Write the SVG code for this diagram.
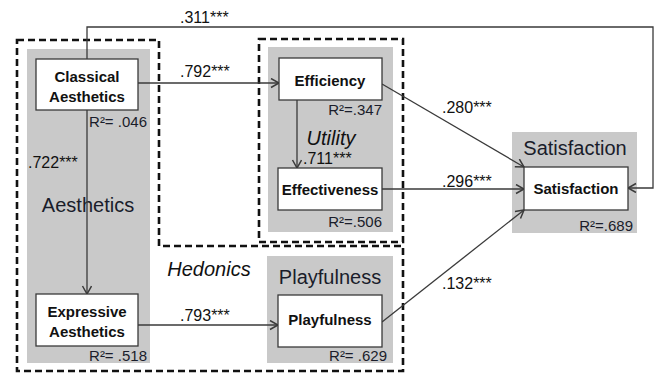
<svg xmlns="http://www.w3.org/2000/svg" width="658" height="375" viewBox="0 0 658 375">
<style>
  .gray{fill:#c9c9c9;}
  .box{fill:#fff;stroke:#3a3a3a;stroke-width:1.3;}
  .dash{fill:none;stroke:#111;stroke-width:2.6;stroke-dasharray:7 4;}
  .con{fill:none;stroke:#3a3a3a;stroke-width:1.3;}
  .b{font-family:"Liberation Sans",Arial,sans-serif;font-weight:bold;font-size:15px;fill:#111;text-anchor:middle;}
  .t{font-family:"Liberation Sans",Arial,sans-serif;font-size:20px;fill:#1a1d2b;text-anchor:middle;}
  .i{font-family:"Liberation Sans",Arial,sans-serif;font-style:italic;font-size:20px;fill:#111;text-anchor:middle;}
  .r{font-family:"Liberation Sans",Arial,sans-serif;font-size:15px;fill:#1a1d2b;text-anchor:end;}
  .n{font-family:"Liberation Sans",Arial,sans-serif;font-size:16px;fill:#111;}
</style>
<defs>
  <marker id="arr" markerUnits="userSpaceOnUse" markerWidth="12" markerHeight="12" refX="9" refY="5" orient="auto">
    <path d="M1,0.5 L9,5 L1,9.5" fill="none" stroke="#3a3a3a" stroke-width="1.5"/>
  </marker>
</defs>
<rect width="658" height="375" fill="#fff"/>

<g id="groups">
  <rect class="gray" x="27" y="49" width="123" height="314"/>
  <rect class="gray" x="268" y="47" width="125" height="185"/>
  <rect class="gray" x="267" y="256" width="126" height="107"/>
  <rect class="gray" x="512" y="132" width="125" height="101"/>
  <path class="dash" d="M17,40 H159 V246 H403 V371 H17 Z"/>
  <rect class="dash" x="259" y="39" width="144" height="203"/>
  <text class="t" x="88" y="212" font-size="21">Aesthetics</text>
  <text class="i" x="209" y="276">Hedonics</text>
  <text class="i" x="331" y="145" font-size="21">Utility</text>
  <text class="t" x="330" y="284">Playfulness</text>
  <text class="t" x="575" y="155" font-size="19.5">Satisfaction</text>
</g>

<g id="connectors">
  <path class="con" d="M138,83 H279" marker-end="url(#arr)"/>
  <path class="con" d="M87,110 V294" marker-end="url(#arr)"/>
  <path class="con" d="M297,100 V168" marker-end="url(#arr)"/>
  <path class="con" d="M87,59 V27 H653 V188 H628" marker-end="url(#arr)"/>
  <path class="con" d="M382,84 L524,167" marker-end="url(#arr)"/>
  <path class="con" d="M382,189 H524" marker-end="url(#arr)"/>
  <path class="con" d="M382,322 L524,210" marker-end="url(#arr)"/>
  <path class="con" d="M138,325 H278" marker-end="url(#arr)"/>
  <text class="n" x="180" y="23">.311***</text>
  <text class="n" x="180" y="77">.792***</text>
  <text class="n" x="28" y="168">.722***</text>
  <text class="n" x="303" y="164" font-size="15">.711***</text>
  <text class="n" x="180" y="321">.793***</text>
  <text class="n" x="442" y="113">.280***</text>
  <text class="n" x="442" y="187">.296***</text>
  <text class="n" x="442" y="289">.132***</text>
</g>

<g id="classical">
  <rect class="box" x="36" y="59" width="102" height="51"/>
  <text class="b" x="87" y="82">Classical</text>
  <text class="b" x="87" y="102">Aesthetics</text>
  <text class="r" x="147" y="127">R²= .046</text>
</g>
<g id="expressive">
  <rect class="box" x="36" y="294" width="102" height="52"/>
  <text class="b" x="87" y="317">Expressive</text>
  <text class="b" x="87" y="337">Aesthetics</text>
  <text class="r" x="147" y="361">R²= .518</text>
</g>
<g id="efficiency">
  <rect class="box" x="279" y="58" width="103" height="42"/>
  <text class="b" x="330" y="86">Efficiency</text>
  <text class="r" x="382" y="115">R²=.347</text>
</g>
<g id="effectiveness">
  <rect class="box" x="278" y="168" width="104" height="42"/>
  <text class="b" x="330" y="195">Effectiveness</text>
  <text class="r" x="382" y="227">R²=.506</text>
</g>
<g id="playfulness">
  <rect class="box" x="278" y="295" width="104" height="52"/>
  <text class="b" x="330" y="325">Playfulness</text>
  <text class="r" x="387" y="361">R²= .629</text>
</g>
<g id="satisfaction">
  <rect class="box" x="524" y="167" width="104" height="43"/>
  <text class="b" x="576" y="194">Satisfaction</text>
  <text class="r" x="633" y="231">R²=.689</text>
</g>
</svg>
